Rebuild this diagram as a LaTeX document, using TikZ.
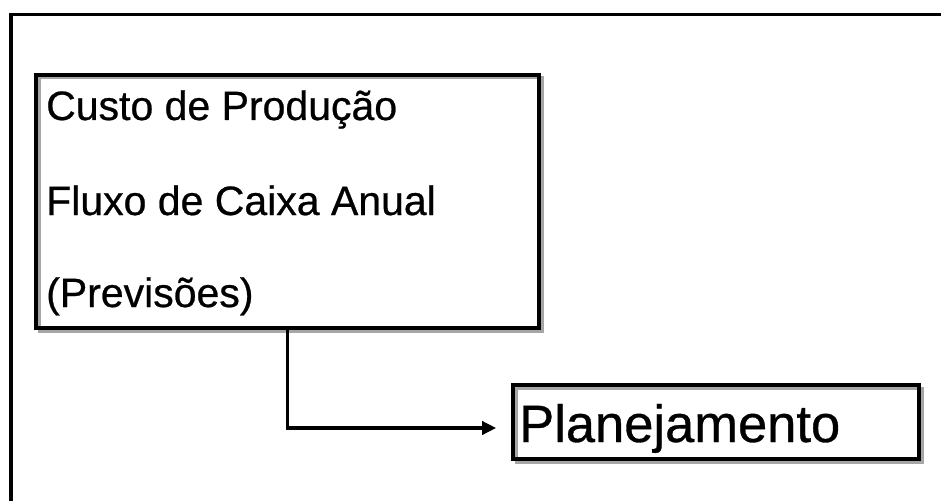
\documentclass[tikz,border=0pt]{standalone}
\usepackage{fontspec}
\setmainfont{Liberation Sans}
\newfontfamily\boxfont[FakeBold=0.6]{Liberation Sans}
\usetikzlibrary{arrows.meta,shadows}
\begin{document}
\begin{tikzpicture}[x=1pt,y=-1pt,
  framebox/.style={draw=black, line width=3.6pt, fill=none, inner sep=0pt,
    general shadow={draw=black!35, line width=3pt, fill=none,
      shadow xshift=3pt, shadow yshift=-3pt}},
  itemtext/.style={anchor=base west, inner sep=0pt,
    font=\boxfont\fontsize{41}{48}\selectfont},
  bigtext/.style={anchor=base west, inner sep=0pt,
    font=\boxfont\fontsize{52.5}{62}\selectfont},
  flow/.style={draw=black, line width=3.6pt, -{Triangle[length=14pt,width=13pt]}}]
\useasboundingbox (0,0) rectangle (941,500);
% outer frame, running off the right and bottom edges
\draw[line width=3.8pt, line cap=butt] (11,520) -- (11,14.5) -- (960,14.5);
% input box with its three lines of text
\node[framebox, minimum width=503pt, minimum height=253pt] (b1) at (287.5,201.5) {};
\node[itemtext] (t1) at (46,120) {Custo de Produção};
\node[itemtext] (t2) at (46,215) {Fluxo de Caixa Anual};
\node[itemtext] (t3) at (46,307) {(Previsões)};
% result box
\node[framebox, minimum width=406pt, minimum height=74pt] (b2) at (716,422) {};
\node[bigtext] (t4) at (519,442) {Planejamento};
% connector
\coordinate (c1) at (287.5,428);
\draw[flow] (b1.south) -- (c1) -- ([xshift=-15pt]b2.west |- c1);
\end{tikzpicture}
\end{document}
